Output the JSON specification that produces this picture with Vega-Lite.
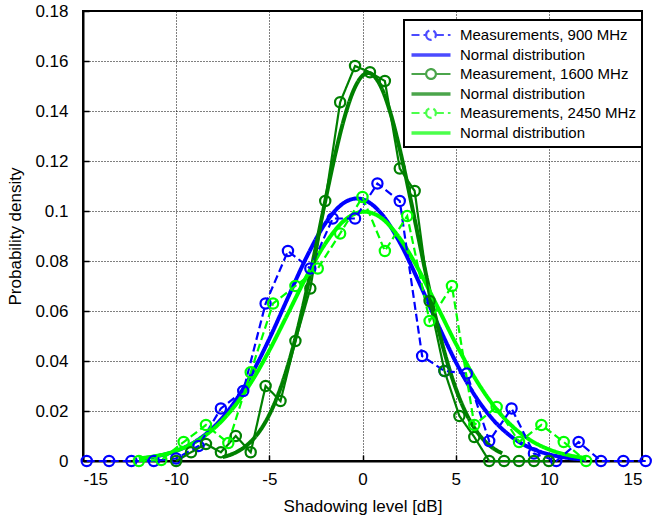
{
  "$schema": "https://vega.github.io/schema/vega-lite/v6.json",
  "width": 559,
  "height": 450,
  "autosize": {"type": "none"},
  "padding": {"left": 83, "top": 11, "right": 10, "bottom": 58},
  "background": "white",
  "config": {
    "view": {"stroke": "black", "strokeWidth": 2},
    "font": "Liberation Sans",
    "axis": {
      "domainColor": "black", "domainWidth": 2,
      "grid": true, "gridColor": "black", "gridDash": [1, 2], "gridOpacity": 1, "gridWidth": 1,
      "tickColor": "black", "tickSize": -6, "tickWidth": 1.5,
      "labelFont": "Liberation Sans", "labelFontSize": 17, "labelColor": "black",
      "titleFont": "Liberation Sans", "titleFontSize": 17, "titleFontWeight": "normal", "titleColor": "black"
    },
    "legend": {
      "orient": "none", "legendX": 321, "legendY": 9,
      "padding": 6, "strokeColor": "black", "strokeWidth": 2, "fillColor": "white",
      "labelFont": "Liberation Sans", "labelFontSize": 15, "labelColor": "black", "labelLimit": 400,
      "symbolSize": 225, "symbolOffset": 12, "labelOffset": 20, "rowPadding": 1,
      "symbolFillColor": "transparent", "symbolStrokeWidth": 2.2
    }
  },
  "datasets": {
    "meas": [
      {"series": "m900", "x": -14.8, "y": 0}, {"series": "m900", "x": -13.6, "y": 0}, {"series": "m900", "x": -12.4, "y": 0},
      {"series": "m900", "x": -11.2, "y": 0}, {"series": "m900", "x": -10.0, "y": 0.001}, {"series": "m900", "x": -8.8, "y": 0.006},
      {"series": "m900", "x": -7.6, "y": 0.021}, {"series": "m900", "x": -6.4, "y": 0.028}, {"series": "m900", "x": -5.2, "y": 0.063},
      {"series": "m900", "x": -4.0, "y": 0.084}, {"series": "m900", "x": -2.8, "y": 0.077}, {"series": "m900", "x": -1.6, "y": 0.097},
      {"series": "m900", "x": -0.4, "y": 0.097}, {"series": "m900", "x": 0.8, "y": 0.111}, {"series": "m900", "x": 2.0, "y": 0.104},
      {"series": "m900", "x": 3.2, "y": 0.042}, {"series": "m900", "x": 4.4, "y": 0.036}, {"series": "m900", "x": 5.6, "y": 0.035},
      {"series": "m900", "x": 6.8, "y": 0.008}, {"series": "m900", "x": 8.0, "y": 0.021}, {"series": "m900", "x": 9.2, "y": 0.003},
      {"series": "m900", "x": 10.4, "y": 0}, {"series": "m900", "x": 11.6, "y": 0.0076}, {"series": "m900", "x": 12.8, "y": 0},
      {"series": "m900", "x": 14.0, "y": 0}, {"series": "m900", "x": 15.2, "y": 0},

      {"series": "m1600", "x": -10.0, "y": 0}, {"series": "m1600", "x": -9.2, "y": 0.0035}, {"series": "m1600", "x": -8.4, "y": 0.0068},
      {"series": "m1600", "x": -7.6, "y": 0.0035}, {"series": "m1600", "x": -6.8, "y": 0.010}, {"series": "m1600", "x": -6.0, "y": 0.0035},
      {"series": "m1600", "x": -5.2, "y": 0.030}, {"series": "m1600", "x": -4.4, "y": 0.024}, {"series": "m1600", "x": -3.6, "y": 0.048},
      {"series": "m1600", "x": -2.8, "y": 0.069}, {"series": "m1600", "x": -2.0, "y": 0.104}, {"series": "m1600", "x": -1.2, "y": 0.1435},
      {"series": "m1600", "x": -0.4, "y": 0.158}, {"series": "m1600", "x": 0.4, "y": 0.1555}, {"series": "m1600", "x": 1.2, "y": 0.152},
      {"series": "m1600", "x": 2.0, "y": 0.117}, {"series": "m1600", "x": 2.8, "y": 0.108}, {"series": "m1600", "x": 3.6, "y": 0.064},
      {"series": "m1600", "x": 4.4, "y": 0.036}, {"series": "m1600", "x": 5.2, "y": 0.018}, {"series": "m1600", "x": 6.0, "y": 0.0096},
      {"series": "m1600", "x": 6.8, "y": 0}, {"series": "m1600", "x": 7.6, "y": 0}, {"series": "m1600", "x": 8.4, "y": 0},
      {"series": "m1600", "x": 9.2, "y": 0}, {"series": "m1600", "x": 10.0, "y": 0},

      {"series": "m2450", "x": -12.0, "y": 0}, {"series": "m2450", "x": -10.8, "y": 0.0004}, {"series": "m2450", "x": -9.6, "y": 0.0076},
      {"series": "m2450", "x": -8.4, "y": 0.0144}, {"series": "m2450", "x": -7.2, "y": 0.0072}, {"series": "m2450", "x": -6.0, "y": 0.0355},
      {"series": "m2450", "x": -4.8, "y": 0.063}, {"series": "m2450", "x": -3.6, "y": 0.070}, {"series": "m2450", "x": -2.4, "y": 0.077},
      {"series": "m2450", "x": -1.2, "y": 0.091}, {"series": "m2450", "x": 0.0, "y": 0.1056}, {"series": "m2450", "x": 1.2, "y": 0.084},
      {"series": "m2450", "x": 2.4, "y": 0.098}, {"series": "m2450", "x": 3.6, "y": 0.056}, {"series": "m2450", "x": 4.8, "y": 0.070},
      {"series": "m2450", "x": 6.0, "y": 0.0144}, {"series": "m2450", "x": 7.2, "y": 0.0216}, {"series": "m2450", "x": 8.4, "y": 0.0076},
      {"series": "m2450", "x": 9.6, "y": 0.0144}, {"series": "m2450", "x": 10.8, "y": 0.0076}, {"series": "m2450", "x": 12.0, "y": 0}
    ],
    "norm": [
      {"series": "n900", "x": -12, "y": 0.00092}, {"series": "n900", "x": -11, "y": 0.00199}, {"series": "n900", "x": -10, "y": 0.00404},
      {"series": "n900", "x": -9, "y": 0.00764}, {"series": "n900", "x": -8, "y": 0.01348}, {"series": "n900", "x": -7, "y": 0.0222},
      {"series": "n900", "x": -6, "y": 0.03409}, {"series": "n900", "x": -5, "y": 0.04887}, {"series": "n900", "x": -4, "y": 0.06536},
      {"series": "n900", "x": -3, "y": 0.08157}, {"series": "n900", "x": -2, "y": 0.095}, {"series": "n900", "x": -1, "y": 0.10323},
      {"series": "n900", "x": -0.3, "y": 0.105}, {"series": "n900", "x": 0, "y": 0.10467}, {"series": "n900", "x": 1, "y": 0.09904},
      {"series": "n900", "x": 2, "y": 0.08743}, {"series": "n900", "x": 3, "y": 0.07202}, {"series": "n900", "x": 4, "y": 0.05536},
      {"series": "n900", "x": 5, "y": 0.0397}, {"series": "n900", "x": 6, "y": 0.02657}, {"series": "n900", "x": 7, "y": 0.01659},
      {"series": "n900", "x": 8, "y": 0.00967}, {"series": "n900", "x": 9, "y": 0.00525}, {"series": "n900", "x": 10, "y": 0.00267},
      {"series": "n900", "x": 11, "y": 0.00126}, {"series": "n900", "x": 12, "y": 0.00056},

      {"series": "n1600", "x": -7.5, "y": 0.00155}, {"series": "n1600", "x": -7, "y": 0.00275}, {"series": "n1600", "x": -6.5, "y": 0.00469},
      {"series": "n1600", "x": -6, "y": 0.00769}, {"series": "n1600", "x": -5.5, "y": 0.01216}, {"series": "n1600", "x": -5, "y": 0.01852},
      {"series": "n1600", "x": -4.5, "y": 0.02713}, {"series": "n1600", "x": -4, "y": 0.03829}, {"series": "n1600", "x": -3.5, "y": 0.05202},
      {"series": "n1600", "x": -3, "y": 0.06806}, {"series": "n1600", "x": -2.5, "y": 0.08573}, {"series": "n1600", "x": -2, "y": 0.10398},
      {"series": "n1600", "x": -1.5, "y": 0.12144}, {"series": "n1600", "x": -1, "y": 0.13656}, {"series": "n1600", "x": -0.5, "y": 0.14786},
      {"series": "n1600", "x": 0, "y": 0.15414}, {"series": "n1600", "x": 0.3, "y": 0.1552}, {"series": "n1600", "x": 0.5, "y": 0.15473},
      {"series": "n1600", "x": 1, "y": 0.14955}, {"series": "n1600", "x": 1.5, "y": 0.13917}, {"series": "n1600", "x": 2, "y": 0.1247},
      {"series": "n1600", "x": 2.5, "y": 0.10759}, {"series": "n1600", "x": 3, "y": 0.08938}, {"series": "n1600", "x": 3.5, "y": 0.07149},
      {"series": "n1600", "x": 4, "y": 0.05506}, {"series": "n1600", "x": 4.5, "y": 0.04083}, {"series": "n1600", "x": 5, "y": 0.02915},
      {"series": "n1600", "x": 5.5, "y": 0.02004}, {"series": "n1600", "x": 6, "y": 0.01327}, {"series": "n1600", "x": 6.5, "y": 0.00845},
      {"series": "n1600", "x": 7, "y": 0.00519}, {"series": "n1600", "x": 7.5, "y": 0.00307},

      {"series": "n2450", "x": -12, "y": 0.00103}, {"series": "n2450", "x": -11, "y": 0.00212}, {"series": "n2450", "x": -10, "y": 0.00411},
      {"series": "n2450", "x": -9, "y": 0.0075}, {"series": "n2450", "x": -8, "y": 0.01284}, {"series": "n2450", "x": -7, "y": 0.02064},
      {"series": "n2450", "x": -6, "y": 0.03118}, {"series": "n2450", "x": -5, "y": 0.04425}, {"series": "n2450", "x": -4, "y": 0.05899},
      {"series": "n2450", "x": -3, "y": 0.07387}, {"series": "n2450", "x": -2, "y": 0.0869}, {"series": "n2450", "x": -1, "y": 0.09604},
      {"series": "n2450", "x": 0, "y": 0.09971}, {"series": "n2450", "x": 0.1, "y": 0.09974}, {"series": "n2450", "x": 1, "y": 0.09725},
      {"series": "n2450", "x": 2, "y": 0.0891}, {"series": "n2450", "x": 3, "y": 0.07669}, {"series": "n2450", "x": 4, "y": 0.06201},
      {"series": "n2450", "x": 5, "y": 0.0471}, {"series": "n2450", "x": 6, "y": 0.03361}, {"series": "n2450", "x": 7, "y": 0.02253},
      {"series": "n2450", "x": 8, "y": 0.01418}, {"series": "n2450", "x": 9, "y": 0.00839}, {"series": "n2450", "x": 10, "y": 0.00466},
      {"series": "n2450", "x": 11, "y": 0.00243}, {"series": "n2450", "x": 12, "y": 0.00119}
    ],
    "keys": [
      {"series": "m900"}, {"series": "n900"}, {"series": "m1600"}, {"series": "n1600"}, {"series": "m2450"}, {"series": "n2450"}
    ]
  },
  "encoding": {
    "x": {
      "field": "x", "type": "quantitative",
      "scale": {"domain": [-15, 15], "nice": false, "zero": false},
      "axis": {"values": [-15, -10, -5, 0, 5, 10, 15], "title": "Shadowing level [dB]", "labelExpr": "toString(datum.value)", "labelPadding": 16, "titlePadding": 11}
    },
    "y": {
      "field": "y", "type": "quantitative",
      "scale": {"domain": [0, 0.18], "nice": false},
      "axis": {"values": [0, 0.02, 0.04, 0.06, 0.08, 0.1, 0.12, 0.14, 0.16, 0.18], "title": "Probability density", "labelExpr": "toString(datum.value)", "labelPadding": 21, "titlePadding": 10}
    }
  },
  "layer": [
    {
      "data": {"name": "keys"},
      "mark": {"type": "point", "filled": false},
      "encoding": {
        "color": {
          "field": "series", "type": "nominal",
          "scale": {"domain": ["m900", "n900", "m1600", "n1600", "m2450", "n2450"], "range": ["#0000ff", "#0000ff", "#008000", "#008000", "#00ff00", "#00ff00"]},
          "legend": {"title": null, "labelExpr": "datum.label == 'm900' ? 'Measurements, 900 MHz' : datum.label == 'm1600' ? 'Measurement, 1600 MHz' : datum.label == 'm2450' ? 'Measurements, 2450 MHz' : 'Normal distribution'"}
        },
        "shape": {
          "field": "series", "type": "nominal",
          "scale": {"domain": ["m900", "n900", "m1600", "n1600", "m2450", "n2450"], "range": [
            "M-2.6,0L-0.65,0M0.65,0L2.6,0M-0.65,0A0.65,0.65 0 1,0 0.65,0A0.65,0.65 0 1,0 -0.65,0",
            "M-2.6,-0.1L2.6,-0.1M-2.6,0.1L2.6,0.1",
            "M-2.6,0L-0.65,0M0.65,0L2.6,0M-0.65,0A0.65,0.65 0 1,0 0.65,0A0.65,0.65 0 1,0 -0.65,0",
            "M-2.6,-0.1L2.6,-0.1M-2.6,0.1L2.6,0.1",
            "M-2.6,0L-0.65,0M0.65,0L2.6,0M-0.65,0A0.65,0.65 0 1,0 0.65,0A0.65,0.65 0 1,0 -0.65,0",
            "M-2.6,-0.1L2.6,-0.1M-2.6,0.1L2.6,0.1"
          ]},
          "legend": {"title": null}
        },
        "strokeDash": {
          "field": "series", "type": "nominal",
          "scale": {"domain": ["m900", "n900", "m1600", "n1600", "m2450", "n2450"], "range": [[8, 4], [1, 0], [1, 0], [1, 0], [8, 4], [1, 0]]},
          "legend": {"title": null}
        }
      }
    },
    {
      "data": {"name": "norm"},
      "mark": {"type": "line", "interpolate": "monotone", "strokeWidth": 4},
      "encoding": {
        "color": {"field": "series", "type": "nominal", "legend": {"title": null}},
        "strokeDash": {"field": "series", "type": "nominal", "legend": {"title": null}}
      }
    },
    {
      "data": {"name": "meas"},
      "mark": {"type": "line", "strokeWidth": 2.2},
      "encoding": {
        "color": {"field": "series", "type": "nominal", "legend": {"title": null}},
        "strokeDash": {"field": "series", "type": "nominal", "legend": {"title": null}}
      }
    },
    {
      "data": {"name": "meas"},
      "mark": {"type": "point", "shape": "circle", "filled": false, "size": 105, "strokeWidth": 2.2, "opacity": 1},
      "encoding": {
        "color": {"field": "series", "type": "nominal", "legend": {"title": null}}
      }
    }
  ]
}
